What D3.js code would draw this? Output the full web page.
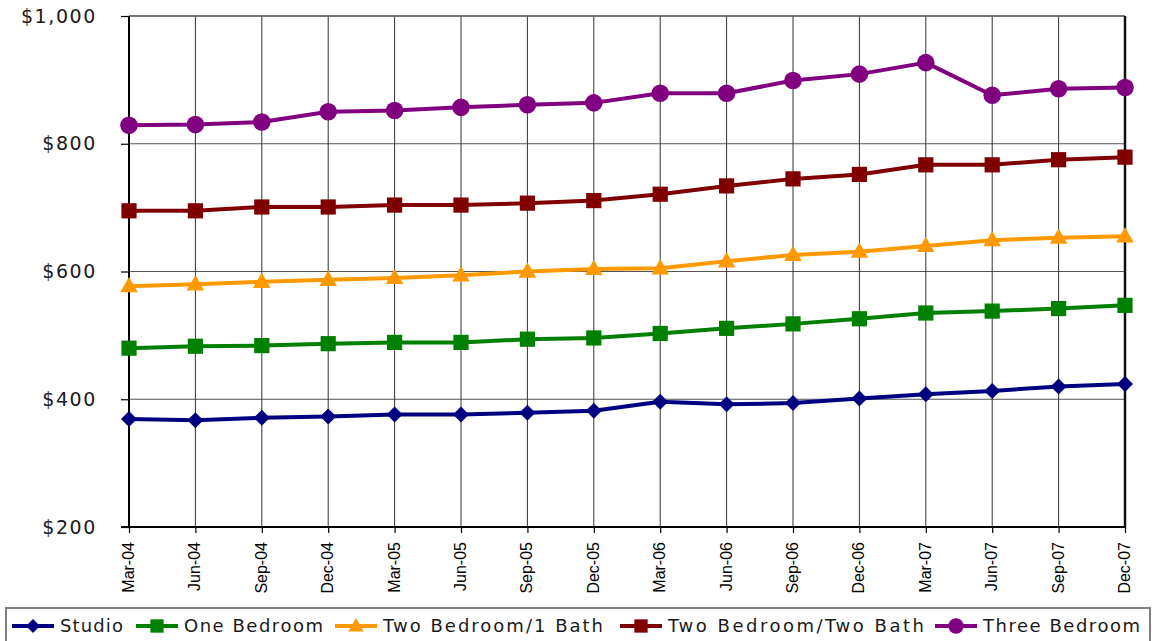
<!DOCTYPE html>
<html>
<head>
<meta charset="utf-8">
<script src="https://cdn.jsdelivr.net/npm/d3@7/dist/d3.min.js"></script>
<style>
  html, body { margin: 0; padding: 0; background: #fff; }
  svg { display: block; }
</style>
</head>
<body>
<svg id="chart" width="1152" height="641"></svg>
<script>
// Quarterly average rents by unit type
const quarters = ["Mar-04","Jun-04","Sep-04","Dec-04","Mar-05","Jun-05","Sep-05","Dec-05",
                  "Mar-06","Jun-06","Sep-06","Dec-06","Mar-07","Jun-07","Sep-07","Dec-07"];

const studio       = [369, 367, 371, 373, 376, 376, 379, 382, 396, 392, 394, 401, 408, 413, 420, 424];
const oneBedroom   = [480, 483, 484, 487, 489, 489, 494, 496, 503, 511, 518, 526, 535, 538, 542, 547];
const twoBedOne    = [577, 580, 584, 587, 590, 594, 600, 604, 605, 616, 626, 631, 640, 649, 653, 655];
const twoBedTwo    = [695, 695, 701, 701, 704, 704, 707, 711, 721, 734, 745, 752, 767, 767, 775, 779];
const threeBedroom = [829, 830, 834, 850, 852, 857, 861, 864, 879, 879, 899, 909, 927, 876, 886, 888];

const yTicks = [200, 400, 600, 800, 1000];

const series = [
  { name: "Studio",               values: studio,       color: "#000080", marker: "diamond"  },
  { name: "One Bedroom",          values: oneBedroom,   color: "#008000", marker: "square"   },
  { name: "Two Bedroom/1 Bath",   values: twoBedOne,    color: "#FF9900", marker: "triangle" },
  { name: "Two Bedroom/Two Bath", values: twoBedTwo,    color: "#800000", marker: "square"   },
  { name: "Three Bedroom",        values: threeBedroom, color: "#800080", marker: "circle"   }
];

const svg = d3.select("#chart");
const plotLeft = 129, plotRight = 1125, plotTop = 16, plotBottom = 527;

const x = d3.scalePoint().domain(quarters).range([plotLeft, plotRight]);
const y = d3.scaleLinear().domain([200, 1000]).range([plotBottom, plotTop]);

// horizontal gridlines
svg.append("g")
  .selectAll("line")
  .data(yTicks)
  .join("line")
  .attr("x1", plotLeft).attr("x2", plotRight)
  .attr("y1", d => y(d)).attr("y2", d => y(d))
  .attr("stroke", "#555").attr("stroke-width", 1.2);

// vertical gridlines
svg.append("g")
  .selectAll("line")
  .data(quarters)
  .join("line")
  .attr("x1", d => x(d)).attr("x2", d => x(d))
  .attr("y1", plotTop).attr("y2", plotBottom)
  .attr("stroke", "#333").attr("stroke-width", 1);

// y axis
const yAxis = svg.append("g")
  .attr("transform", `translate(${plotLeft},0)`)
  .call(d3.axisLeft(y).tickValues(yTicks).tickSize(8).tickPadding(24)
    .tickFormat(d => "$" + d3.format(",")(d)));
yAxis.select(".domain").remove();
yAxis.selectAll(".tick line").attr("stroke", "#000").attr("stroke-width", 1.2);
yAxis.selectAll(".tick text")
  .attr("font-family", "'DejaVu Sans', sans-serif")
  .attr("font-size", 19)
  .attr("letter-spacing", "1.6px")
  .attr("fill", "#1a1a1a");

// x axis
const xAxis = svg.append("g")
  .attr("transform", `translate(0,${plotBottom})`)
  .call(d3.axisBottom(x).tickSize(6).tickPadding(4));
xAxis.select(".domain").remove();
xAxis.selectAll(".tick line").attr("stroke", "#000").attr("stroke-width", 1.2);
xAxis.selectAll(".tick text")
  .attr("font-family", "'Liberation Sans', Arial, sans-serif")
  .attr("font-size", 16)
  .attr("fill", "#000")
  .attr("text-anchor", "end")
  .attr("transform", "translate(0,15) rotate(-90)")
  .attr("x", 0).attr("y", 0)
  .attr("dy", "0.28em");

// frame: top (gray), right (thick), left and bottom axes
svg.append("line").attr("x1", plotLeft).attr("x2", plotRight).attr("y1", plotTop).attr("y2", plotTop)
  .attr("stroke", "#666").attr("stroke-width", 1.5);
svg.append("line").attr("x1", plotRight).attr("x2", plotRight).attr("y1", plotTop).attr("y2", plotBottom)
  .attr("stroke", "#111").attr("stroke-width", 2.5);
svg.append("line").attr("x1", plotLeft).attr("x2", plotLeft).attr("y1", plotTop).attr("y2", plotBottom)
  .attr("stroke", "#000").attr("stroke-width", 2);
svg.append("line").attr("x1", plotLeft - 8).attr("x2", plotRight + 1).attr("y1", plotBottom).attr("y2", plotBottom)
  .attr("stroke", "#000").attr("stroke-width", 2);

// marker drawing
function drawMarker(sel, type, color, size) {
  if (type === "circle") {
    sel.append("circle").attr("r", size * 0.55).attr("fill", color);
  } else if (type === "square") {
    const s = size * 0.95;
    sel.append("rect").attr("x", -s / 2).attr("y", -s / 2).attr("width", s).attr("height", s).attr("fill", color);
  } else if (type === "diamond") {
    const s = size * 0.5;
    sel.append("path").attr("d", `M0,${-s}L${s},0L0,${s}L${-s},0Z`).attr("fill", color);
  } else if (type === "triangle") {
    const s = size * 0.55;
    sel.append("path").attr("d", `M0,${-s * 1.05}L${s},${s * 0.7}L${-s},${s * 0.7}Z`).attr("fill", color);
  }
}

const line = d3.line().x((d, i) => x(quarters[i])).y(d => y(d));

const seriesG = svg.append("g");
series.forEach(s => {
  seriesG.append("path")
    .datum(s.values)
    .attr("d", line)
    .attr("fill", "none")
    .attr("stroke", s.color)
    .attr("stroke-width", 4)
    .attr("stroke-linejoin", "round");
  seriesG.append("g")
    .selectAll("g")
    .data(s.values)
    .join("g")
    .attr("transform", (d, i) => `translate(${x(quarters[i])},${y(d)})`)
    .each(function() { drawMarker(d3.select(this), s.marker, s.color, 16); });
});

// legend
const legend = svg.append("g");
legend.append("rect")
  .attr("x", 6).attr("y", 608).attr("width", 1144).attr("height", 40)
  .attr("fill", "#fff").attr("stroke", "#808080").attr("stroke-width", 2);

const legendX = [12, 136, 335, 620, 935];
const legendTextWidth = [63, 139, 220, 256, 157];
series.forEach((s, i) => {
  const g = legend.append("g").attr("transform", `translate(${legendX[i]},626)`);
  g.append("line").attr("x1", 0).attr("x2", 42).attr("y1", 0).attr("y2", 0)
    .attr("stroke", s.color).attr("stroke-width", 4);
  const m = g.append("g").attr("transform", "translate(21,0)");
  drawMarker(m, s.marker, s.color, 14);
  g.append("text")
    .attr("x", 48).attr("y", 0).attr("dy", "0.36em")
    .attr("font-family", "'DejaVu Sans', sans-serif")
    .attr("font-size", 18)
    .attr("textLength", legendTextWidth[i])
    .attr("lengthAdjust", "spacing")
    .attr("fill", "#1a1a1a")
    .text(s.name);
});
</script>
</body>
</html>
